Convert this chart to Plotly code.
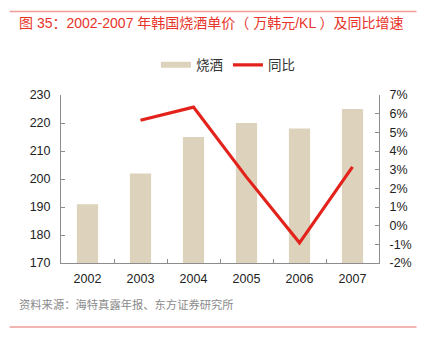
import plotly.graph_objects as go

years = ["2002", "2003", "2004", "2005", "2006", "2007"]
price = [191, 202, 215, 220, 218, 225]
yoy = [None, 5.65, 6.35, 2.6, -0.92, 3.15]
y_left_ticks = [170, 180, 190, 200, 210, 220, 230]
y_right_ticks = [-2, -1, 0, 1, 2, 3, 4, 5, 6, 7]

W, H = 424, 347
L, R, T, B = 61, 41, 95, 84
PW, PH = W - L - R, H - T - B

def px_x(x):
    return (x - L) / PW

def px_y(y):
    return (H - y - B) / PH

font_num = "Liberation Sans, Arial, Noto Sans CJK SC"
font_cjk = "Liberation Sans, Noto Sans CJK SC"
axis_col = "#8c8c8c"
bar_col = "#DDD3BD"

fig = go.Figure()
fig.add_trace(go.Bar(x=years, y=price, name="烧酒", marker_color=bar_col,
                     marker_line_width=0, yaxis="y", showlegend=False))
# legend entry drawn as a wide band like the reference
fig.add_trace(go.Scatter(x=[None], y=[None], name="烧酒", mode="lines",
                         line=dict(color=bar_col, width=6), yaxis="y"))
fig.add_trace(go.Scatter(x=years, y=yoy, name="同比", mode="lines",
                         line=dict(color="#E3231B", width=3.2), yaxis="y2",
                         connectgaps=False))

fig.update_layout(
    width=W, height=H,
    margin=dict(l=L, r=R, t=T, b=B),
    paper_bgcolor="white", plot_bgcolor="white",
    bargap=0.6,
    showlegend=True,
    legend=dict(orientation="h", x=0.525, xanchor="center",
                y=px_y(65), yanchor="middle",
                font=dict(family=font_cjk, size=13.5, color="#333333"),
                itemwidth=30, tracegroupgap=0),
    xaxis=dict(type="category", showline=True, linecolor=axis_col, linewidth=1,
               ticks="inside", ticklen=4, tickcolor=axis_col, tickson="boundaries",
               showgrid=False, ticklabelstandoff=4,
               tickfont=dict(family=font_num, size=12.5, color="#222222")),
    yaxis=dict(range=[170, 230], tickvals=y_left_ticks, showline=True, linecolor=axis_col,
               ticks="inside", ticklen=4, tickcolor=axis_col, showgrid=False, zeroline=False,
               ticklabelstandoff=7,
               tickfont=dict(family=font_num, size=12.5, color="#222222")),
    yaxis2=dict(range=[-2, 7], tickvals=y_right_ticks,
                ticktext=[f"{v}%" for v in y_right_ticks],
                overlaying="y", side="right", showline=True, linecolor=axis_col,
                ticks="inside", ticklen=4, tickcolor=axis_col, showgrid=False, zeroline=False,
                ticklabelstandoff=7,
                tickfont=dict(family=font_num, size=12.5, color="#222222")),
    title=dict(text="图 35：2002-2007 年韩国烧酒单价（ 万韩元/KL ）及同比增速",
               xref="container", yref="container", x=19 / W, y=1 - 23 / H,
               xanchor="left", yanchor="middle",
               font=dict(family=font_cjk, size=14, color="#E8332A", weight="normal")),
)

fig.add_annotation(text="资料来源：海特真露年报、东方证券研究所", xref="paper", yref="paper",
                   x=px_x(16), y=px_y(304), xanchor="left", yanchor="middle",
                   showarrow=False, font=dict(family=font_cjk, size=11.3, color="#8a8a8a"))

for yy in (11.5, 327):
    fig.add_shape(type="line", xref="paper", yref="paper",
                  x0=px_x(9), x1=px_x(421), y0=px_y(yy), y1=px_y(yy),
                  line=dict(color="#EE9C98", width=1.5))

fig.write_html("out.html")
